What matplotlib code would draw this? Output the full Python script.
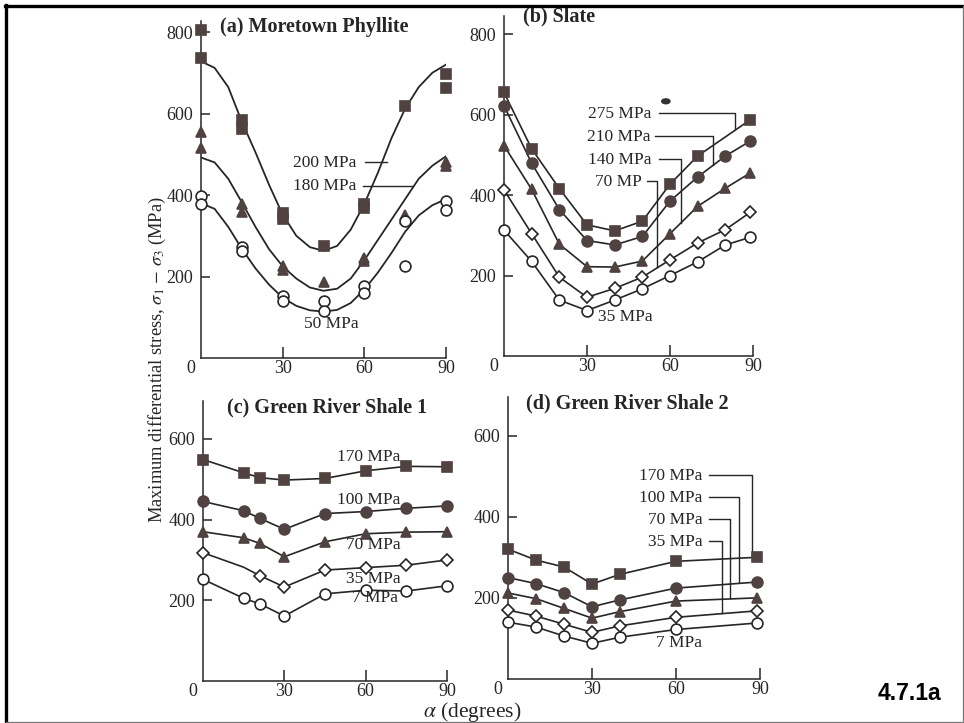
import matplotlib
matplotlib.use("Agg")
import matplotlib.pyplot as plt
from matplotlib.lines import Line2D
from matplotlib.patches import Ellipse

# ---------------- DATA ----------------
# (a) Moretown Phyllite
a_sq_x = [0, 0, 15, 15, 30, 30, 45, 60, 60, 75, 90, 90]
a_sq_y = [806, 737, 583, 562, 357, 342, 275, 378, 368, 618, 697, 662]
a_tri_x = [0, 0, 15, 15, 30, 30, 45, 60, 60, 75, 75, 90, 90]
a_tri_y = [554, 515, 378, 358, 225, 216, 186, 246, 238, 352, 340, 480, 470]
a_oc_x = [0, 0, 15, 15, 30, 30, 45, 45, 60, 60, 75, 75, 90, 90]
a_oc_y = [398, 378, 272, 262, 153, 140, 140, 115, 176, 160, 335, 225, 385, 363]
a_curve_x = [0, 5, 10, 15, 20, 25, 30, 35, 40, 45, 50, 55, 60, 65, 70, 75, 80, 85, 90]
a_curve_200 = [728, 712, 665, 580, 505, 425, 352, 300, 272, 263, 275, 315, 378, 455, 540, 612, 665, 700, 720]
a_curve_180 = [492, 480, 440, 382, 322, 267, 225, 195, 173, 165, 170, 195, 240, 290, 340, 390, 440, 472, 495]
a_curve_50 = [380, 366, 322, 268, 220, 180, 148, 128, 117, 114, 118, 135, 168, 210, 258, 310, 350, 375, 390]

# (b) Slate
b_x = [0, 10, 20, 30, 40, 50, 60, 70, 80, 89]
b_sq_x = [0, 10, 20, 30, 40, 50, 60, 70, 89]
b_275 = [655, 515, 416, 326, 311, 335, 427, 497, 587]
b_210 = [622, 479, 364, 287, 276, 297, 385, 445, 497, 534]
b_140 = [523, 414, 278, 222, 221, 236, 304, 372, 417, 455]
b_70 = [413, 304, 196, 146, 168, 196, 239, 281, 314, 357]
b_35 = [313, 235, 139, 113, 139, 167, 200, 234, 276, 295]

# (c) Green River Shale 1
c_x = [0, 15, 21, 30, 45, 60, 75, 90]
c_170 = [549, 516, 504, 498, 502, 521, 532, 531]
c_100 = [445, 422, 403, 376, 415, 420, 428, 434]
c_70 = [370, 355, 341, 308, 345, 365, 369, 370]
c_35 = [318, 282, 261, 233, 275, 281, 287, 300]
c_7 = [252, 205, 191, 161, 216, 225, 223, 236]

# (d) Green River Shale 2
d_x = [0, 10, 20, 30, 40, 60, 89]
d_170 = [320, 293, 276, 234, 258, 290, 300]
d_100 = [250, 235, 213, 178, 195, 224, 239]
d_70 = [212, 198, 174, 150, 166, 192, 200]
d_35 = [170, 155, 135, 115, 131, 152, 168]
d_7 = [140, 128, 106, 88, 103, 122, 138]

x_ticks = [30, 60, 90]
yticks_ab = [200, 400, 600, 800]
yticks_cd = [200, 400, 600]

# ---------------- STYLE ----------------
plt.rcParams["font.family"] = ["Liberation Serif", "DejaVu Serif"]
plt.rcParams["mathtext.fontset"] = "stix"
INK = "#262626"
FILL = "#4f4240"
FS = 12.5      # curve labels
TFS = 13.0     # tick labels
HFS = 14.5     # panel titles
W, H = 964, 723

fig = plt.figure(figsize=(W / 100, H / 100), dpi=100)
fig.patch.set_facecolor("white")


def make_axes(x0, x90, y0, ytop, ymax, yticks):
    ax = fig.add_axes([x0 / W, 1 - y0 / H, (x90 - x0) / W, (y0 - ytop) / H])
    ax.set_xlim(0, 90)
    ax.set_ylim(0, ymax)
    for s in ("top", "right"):
        ax.spines[s].set_visible(False)
    for s in ("left", "bottom"):
        ax.spines[s].set_color(INK)
        ax.spines[s].set_linewidth(1.1)
    ax.set_xticks(x_ticks)
    ax.set_yticks(yticks)
    ax.tick_params(axis="x", direction="in", length=8, width=1.1, pad=1.5,
                   labelsize=TFS, colors=INK)
    ax.tick_params(axis="y", direction="in", length=6.5, width=1.1, pad=5.5,
                   labelsize=TFS, colors=INK)
    ax.patch.set_alpha(0)
    ax.annotate("0", xy=(0, 0), xytext=(-7, -7.5), textcoords="offset points",
                ha="center", va="center", fontsize=TFS, color=INK,
                annotation_clip=False)
    return ax


def series(ax, x, y, marker, filled, ms=7.5, line=True):
    if line:
        ax.plot(x, y, "-", color=INK, lw=1.2, clip_on=False, zorder=2)
    ax.plot(x, y, linestyle="none", marker=marker, ms=ms,
            mfc=FILL if filled else "white", mec=FILL if filled else INK,
            mew=1.2, clip_on=False, zorder=3)


def leader(ax, pts):
    xs = [p[0] for p in pts]
    ys = [p[1] for p in pts]
    ax.plot(xs, ys, "-", color=INK, lw=1.0, clip_on=False, zorder=1)


# ---- (a)
axa = make_axes(201, 446, 358, 21, 827, yticks_ab)
axa.plot(a_curve_x, a_curve_200, color=INK, lw=1.3, zorder=2)
axa.plot(a_curve_x, a_curve_180, color=INK, lw=1.3, zorder=2)
axa.plot(a_curve_x, a_curve_50, color=INK, lw=1.3, zorder=2)
series(axa, a_sq_x, a_sq_y, "s", True, ms=6.8, line=False)
series(axa, a_tri_x, a_tri_y, "^", True, ms=7.5, line=False)
series(axa, a_oc_x, a_oc_y, "o", False, ms=7.8, line=False)
axa.text(7, 812, "(a) Moretown Phyllite", fontsize=HFS, fontweight="bold",
         ha="left", va="center", color=INK)
axa.text(45.6, 478, "200 MPa", fontsize=FS, ha="center", va="center", color=INK)
axa.text(45.6, 422, "180 MPa", fontsize=FS, ha="center", va="center", color=INK)
axa.text(48, 84, "50 MPa", fontsize=FS, ha="center", va="center", color=INK)
leader(axa, [(60.3, 480), (68.2, 480)])
leader(axa, [(59.5, 422), (77.8, 422)])

# ---- (b)
axb = make_axes(504, 753, 356, 16, 845, yticks_ab)
series(axb, b_sq_x, b_275, "s", True, ms=6.8)
series(axb, b_x, b_210, "o", True, ms=7.8)
series(axb, b_x, b_140, "^", True, ms=7.5)
series(axb, b_x, b_70, "D", False, ms=6.3)
series(axb, b_x, b_35, "o", False, ms=7.8)
axb.text(6.9, 845, "(b) Slate", fontsize=HFS, fontweight="bold",
         ha="left", va="center", color=INK)
b_labels = [("275 MPa", 53.3, 602, 56.0, 83.4, 565),
            ("210 MPa", 52.9, 545, 54.5, 75.6, 475),
            ("140 MPa", 53.3, 488, 56.0, 63.8, 330),
            ("70 MP", 49.7, 433, 51.7, 55.3, 220)]
for txt, tx, ty, lx0, lx1, yend in b_labels:
    axb.text(tx, ty, txt, fontsize=FS, ha="right", va="center", color=INK)
    leader(axb, [(lx0, ty + 2), (lx1, ty + 2), (lx1, yend)])
axb.text(34, 96, "35 MPa", fontsize=FS, ha="left", va="center", color=INK)
# small ink blot visible in the scan
axb.add_patch(Ellipse((58.5, 633), 3.0, 12, angle=0, color="#333333", zorder=1))

# ---- (c)
axc = make_axes(203, 447, 681, 401, 694, yticks_cd)
series(axc, c_x, c_170, "s", True, ms=6.8)
series(axc, c_x, c_100, "o", True, ms=7.8)
series(axc, c_x, c_70, "^", True, ms=7.5)
axc.plot(c_x, c_35, "-", color=INK, lw=1.2, zorder=2)
axc.plot([c_x[i] for i in range(len(c_x)) if i != 1],
         [c_35[i] for i in range(len(c_x)) if i != 1],
         linestyle="none", marker="D", ms=6.3, mfc="white", mec=INK, mew=1.2,
         clip_on=False, zorder=3)
series(axc, c_x, c_7, "o", False, ms=7.8)
axc.text(8.9, 679, "(c) Green River Shale 1", fontsize=HFS, fontweight="bold",
         ha="left", va="center", color=INK)
for txt, tx, ty in [("170 MPa", 61, 556), ("100 MPa", 61, 448),
                    ("70 MPa", 63, 336), ("35 MPa", 63, 254), ("7 MPa", 63.5, 206)]:
    axc.text(tx, ty, txt, fontsize=FS, ha="center", va="center", color=INK)

# ---- (d)
axd = make_axes(508, 760, 679, 397, 695, yticks_cd)
series(axd, d_x, d_170, "s", True, ms=6.8)
series(axd, d_x, d_100, "o", True, ms=7.8)
series(axd, d_x, d_70, "^", True, ms=7.5)
series(axd, d_x, d_35, "D", False, ms=6.3)
series(axd, d_x, d_7, "o", False, ms=7.8)
axd.text(6.6, 680, "(d) Green River Shale 2", fontsize=HFS, fontweight="bold",
         ha="left", va="center", color=INK)
d_labels = [("170 MPa", 69.5, 500, 71.9, 87.0, 302),
            ("100 MPa", 69.5, 447, 71.9, 82.6, 238),
            ("70 MPa", 69.5, 392, 71.9, 79.3, 199),
            ("35 MPa", 69.5, 337, 71.9, 76.3, 163)]
for txt, tx, ty, lx0, lx1, yend in d_labels:
    axd.text(tx, ty, txt, fontsize=FS, ha="right", va="center", color=INK)
    leader(axd, [(lx0, ty + 2), (lx1, ty + 2), (lx1, yend)])
axd.text(61, 89, "7 MPa", fontsize=FS, ha="center", va="center", color=INK)

# ---- shared labels
fig.text(157 / W, 1 - 360 / H,
         r"Maximum differential stress, $\sigma_1$ $-$ $\sigma_3$ (MPa)",
         rotation=90, ha="center", va="center", fontsize=13.3, color=INK)
fig.text(472 / W, 1 - 712 / H, r"$\alpha$ (degrees)", ha="center", va="center",
         fontsize=15.5, color=INK)
fig.text(909 / W, 1 - 694 / H, "4.7.1a", ha="center", va="center",
         fontsize=16.5, fontweight="bold", family="Liberation Sans", color="black")

# ---- frame
fig.add_artist(Line2D([5 / W, 963 / W], [1 - 6 / H, 1 - 6 / H], color="black",
                      lw=2.4, transform=fig.transFigure))
fig.add_artist(Line2D([6 / W, 6 / W], [1 - 5 / H, 1 - 722 / H], color="black",
                      lw=2.4, transform=fig.transFigure))
fig.add_artist(Line2D([962.5 / W, 962.5 / W], [1 - 6 / H, 1 - 722 / H],
                      color="#777777", lw=0.9, transform=fig.transFigure))
fig.add_artist(Line2D([6 / W, 963 / W], [1 - 721.5 / H, 1 - 721.5 / H],
                      color="#777777", lw=0.9, transform=fig.transFigure))

fig.savefig("out.png", dpi=100, facecolor="white")
